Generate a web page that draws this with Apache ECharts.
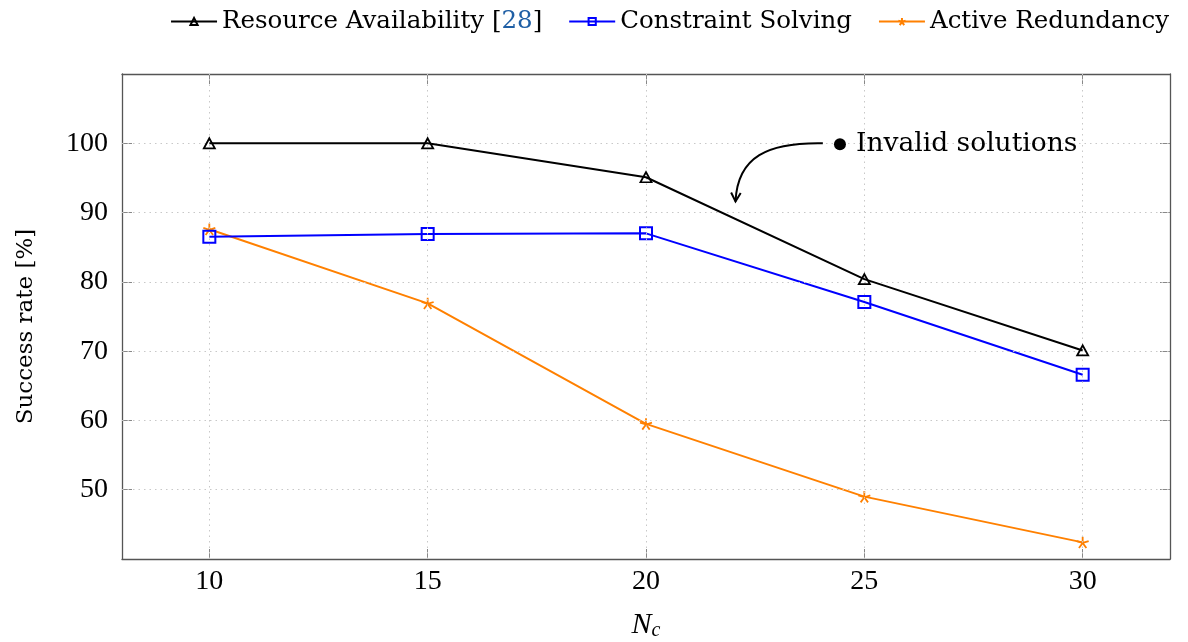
<!DOCTYPE html>
<html><head><meta charset="utf-8">
<script src="https://cdn.jsdelivr.net/npm/echarts@6/dist/echarts.min.js"></script>
<style>html,body{margin:0;padding:0;background:#fff}#c{width:1188px;height:642px}</style>
</head><body><div id="c"></div>
<script>
var categories = [10, 15, 20, 25, 30];
var resourceAvailability = [100, 100, 95.1, 80.4, 70.1];
var constraintSolving = [86.5, 86.9, 87.0, 77.1, 66.6];
var activeRedundancy = [87.6, 76.9, 59.5, 49.0, 42.4];
var yTicks = [50, 60, 70, 80, 90, 100];
var xTicks = [10, 15, 20, 25, 30];

var NUMFONT = 'Liberation Serif';
var FONT = 'DejaVu Serif';
var STAR = 'path://M0,-10 L0,0 M9.51,-3.09 L0,0 M5.88,8.09 L0,0 M-5.88,8.09 L0,0 M-9.51,-3.09 L0,0';

function pairs(v){ return categories.map(function(c,i){return [c, v[i]];}); }

var chart = echarts.init(document.getElementById('c'), null, {renderer:'canvas'});
var option = {
  animation:false,
  textStyle:{fontFamily:FONT},
  grid:{left:122, right:18, top:74, bottom:83, containLabel:false, outerBoundsMode:'none'},
  legend:{
    top:4, right:14, itemGap:26, itemWidth:46, itemHeight:9,
    textStyle:{fontFamily:FONT, fontSize:24.5, color:'#000',
      rich:{b:{fontFamily:FONT, fontSize:24.5, color:'#1f5fa5'}, n:{fontFamily:FONT, fontSize:24.5, color:'#000'}}},
    formatter:function(n){
      if(n.indexOf('[28]')>=0) return '{n|Resource Availability [}{b|28}{n|]}';
      return n;
    },
    data:['Resource Availability [28]','Constraint Solving','Active Redundancy']
  },
  xAxis:[{
    type:'value', min:8, max:32, interval:1,
    axisLine:{show:true, lineStyle:{color:'#555', width:1.3}},
    axisTick:{show:true, inside:true, length:10, lineStyle:{color:'#888'},
      customValues:xTicks},
    axisLabel:{show:true, fontFamily:NUMFONT, fontSize:28, color:'#000', margin:9,
      customValues:xTicks},
    splitLine:{show:false},
    name:'{i|N}{s|c}', nameLocation:'middle', nameGap:50,
    nameTextStyle:{rich:{i:{fontFamily:NUMFONT, fontStyle:'italic', fontSize:30, color:'#000'},
      s:{fontFamily:NUMFONT, fontStyle:'italic', fontSize:20, color:'#000', padding:[12,0,0,0]}}}
  },{
    type:'value', min:8, max:32, position:'top',
    axisLine:{show:true, lineStyle:{color:'#555', width:1.3}},
    axisTick:{show:true, inside:true, length:10, lineStyle:{color:'#888'}, customValues:xTicks},
    axisLabel:{show:false}, splitLine:{show:false}
  }],
  yAxis:[{
    type:'value', min:40, max:110, interval:10,
    axisLine:{show:true, lineStyle:{color:'#555', width:1.3}},
    axisTick:{show:true, inside:true, length:10, lineStyle:{color:'#888'}, customValues:yTicks},
    axisLabel:{show:true, fontFamily:NUMFONT, fontSize:28, color:'#000', margin:14, customValues:yTicks},
    splitLine:{show:false},
    name:'Success rate [%]', nameLocation:'middle', nameGap:84,
    nameTextStyle:{fontFamily:FONT, fontSize:23, color:'#000', padding:[0,20,0,0]}
  },{
    type:'value', min:40, max:110, position:'right',
    axisLine:{show:true, lineStyle:{color:'#555', width:1.3}},
    axisTick:{show:true, inside:true, length:10, lineStyle:{color:'#888'}, customValues:yTicks},
    axisLabel:{show:false}, splitLine:{show:false}
  }],
  series:[
    {name:'Resource Availability [28]', type:'line', data:pairs(resourceAvailability),
     symbol:'triangle', symbolSize:[11,10],
     lineStyle:{color:'#000', width:2},
     itemStyle:{color:'none', borderColor:'#000', borderWidth:1.8},
     markLine:{silent:true, symbol:'none', label:{show:false},
       lineStyle:{color:'#c8c8c8', type:[1.5,4], width:1},
       data: xTicks.map(function(v){return {xAxis:v};}).concat(yTicks.map(function(v){return {yAxis:v};}))},
     z:5},
    {name:'Constraint Solving', type:'line', data:pairs(constraintSolving),
     symbol:'rect', symbolSize:12,
     lineStyle:{color:'#0000ff', width:2},
     itemStyle:{color:'none', borderColor:'#0000ff', borderWidth:2}, z:4},
    {name:'Active Redundancy', type:'line', data:pairs(activeRedundancy),
     symbol:STAR, symbolSize:12, symbolKeepAspect:true,
     lineStyle:{color:'#ff8000', width:2},
     itemStyle:{color:'#ff8000', borderColor:'#ff8000', borderWidth:1.8}, z:3}
  ]
};
chart.setOption(option);

// annotation
function px(x,y){ return chart.convertToPixel({gridIndex:0}, [x,y]); }
var s = px(24.05, 100), e = px(22.05, 91.6), t = px(24.35, 100);
var c1 = [s[0]-55, s[1]-1], c2 = [e[0]+2, e[1]-45];
var ang = Math.atan2(e[1]-c2[1], e[0]-c2[0]);
var L = 10;
function rot(a){ return [e[0]-L*Math.cos(ang+a), e[1]-L*Math.sin(ang+a)]; }
var h1 = rot(0.5), h2 = rot(-0.5);
chart.setOption({graphic:[
  {type:'bezierCurve', shape:{x1:s[0], y1:s[1], cpx1:c1[0], cpy1:c1[1], cpx2:c2[0], cpy2:c2[1], x2:e[0], y2:e[1]},
   style:{stroke:'#000', lineWidth:2, fill:null}, z:10},
  {type:'polyline', shape:{points:[h1, e, h2]}, style:{stroke:'#000', lineWidth:2, fill:null}, z:10},
  {type:'circle', shape:{cx:t[0]+4, cy:t[1]+1, r:6}, style:{fill:'#000'}, z:10},
  {type:'text', x:t[0]+20, y:t[1]+1, style:{text:'Invalid solutions', font:'26.5px "DejaVu Serif"', fill:'#000', textVerticalAlign:'middle', textBaseline:'middle'}, z:10}
]});
</script></body></html>
